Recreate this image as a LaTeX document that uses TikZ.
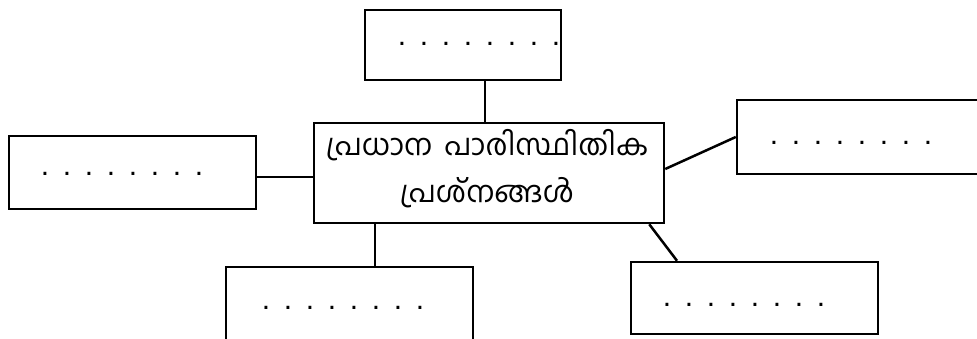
\documentclass[tikz,border=0pt]{standalone}
\usepackage{fontspec}
\setmainfont{Liberation Sans}
\newfontfamily\malfont[Script=Malayalam]{Hind Kochi}
\newcommand{\dotrow}{\foreach \i in {1,...,8}{\makebox[22pt]{.}}}
\begin{document}
\begin{tikzpicture}[x=1pt,y=-1pt,
  box/.style={draw,line width=2.5pt,inner sep=0pt,rectangle},
  dots/.style={inner sep=0pt,anchor=base,font=\fontsize{30}{30}\selectfont},
  link/.style={line width=2.5pt}]
\clip (0,0) rectangle (977,339);
\fill[white] (0,0) rectangle (977,339);
% boxes
\node[box,minimum width=196pt,minimum height=70pt] (top) at (463,45) {};
\node[box,minimum width=247pt,minimum height=73pt] (left) at (132.5,172.5) {};
\node[box,minimum width=263pt,minimum height=74pt] (right) at (868.5,137) {};
\node[box,minimum width=247pt,minimum height=93pt] (bl) at (349.5,313.5) {};
\node[box,minimum width=247pt,minimum height=72pt] (br) at (754.5,298) {};
\node[box,minimum width=350pt,minimum height=100pt] (center) at (489,173) {};
\node[inner sep=0pt,align=center,font=\malfont\fontsize{29.5}{47}\selectfont]
  (title) at (487,169) {പ്രധാന\hspace{12pt}പാരിസ്ഥിതിക\\പ്രശ്നങ്ങൾ};
% placeholder dots
\node[dots] (d1) at (479,46) {\dotrow};
\node[dots] (d2) at (122,176) {\dotrow};
\node[dots] (d3) at (851,145) {\dotrow};
\node[dots] (d4) at (343,309) {\dotrow};
\node[dots] (d5) at (744,306) {\dotrow};
% connectors
\draw[link] ([xshift=-4pt]center.north) -- ([xshift=22pt]top.south);
\draw[link] ([yshift=-4.5pt]left.east) -- ([yshift=-4pt]center.west);
\draw[link] ([yshift=4pt]center.east) -- (right.west);
\draw[link] ([xshift=-114pt]center.south) -- ([xshift=25.5pt]bl.north);
\draw[link] ([xshift=-16pt]center.south east) -- ([xshift=-77.5pt]br.north);
\end{tikzpicture}
\end{document}
